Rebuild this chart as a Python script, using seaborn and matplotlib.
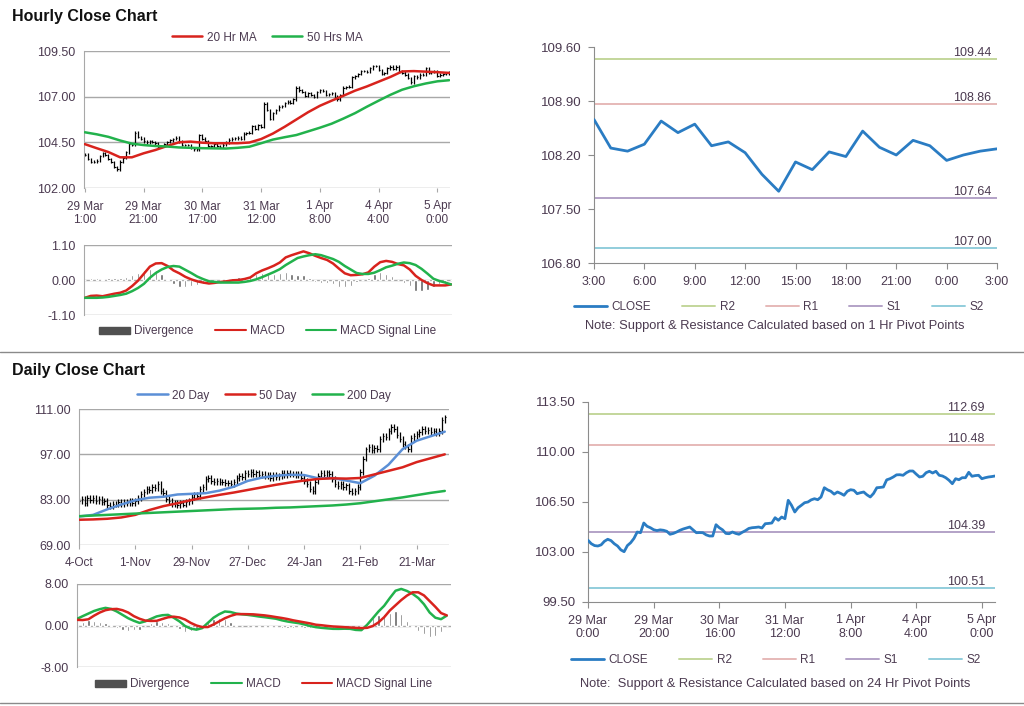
import matplotlib
matplotlib.use("Agg")
import matplotlib.pyplot as plt
import seaborn as sns
import numpy as np
from matplotlib.patches import Patch

# hourly closes, 29 Mar -> 5 Apr (one value per trading hour)
h_close = [
    103.82, 103.58, 103.45, 103.42, 103.50, 103.75, 103.89, 103.80, 103.58, 103.42,
    103.15, 103.02, 103.45, 103.65, 103.95, 104.40, 104.35, 105.03, 104.80, 104.70,
    104.56, 104.50, 104.55, 104.52, 104.45, 104.24, 104.30, 104.40, 104.52, 104.61,
    104.68, 104.75, 104.55, 104.35, 104.36, 104.35, 104.20, 104.12, 104.12, 104.91,
    104.70, 104.55, 104.30, 104.28, 104.40, 104.30, 104.24, 104.38, 104.50, 104.65,
    104.70, 104.72, 104.75, 104.68, 104.98, 105.00, 105.03, 105.40, 105.22, 105.45,
    105.33, 106.62, 106.27, 105.80, 106.10, 106.27, 106.45, 106.50, 106.65, 106.73,
    106.66, 106.85, 107.50, 107.35, 107.25, 107.05, 107.20, 107.10, 106.97, 107.25,
    107.36, 107.32, 107.08, 107.15, 107.20, 107.00, 106.85, 107.10, 107.50, 107.52,
    107.55, 108.05, 108.13, 108.25, 108.40, 108.41, 108.37, 108.55, 108.67, 108.67,
    108.45, 108.25, 108.30, 108.55, 108.65, 108.53, 108.65, 108.37, 108.32, 108.20,
    108.02, 107.78, 108.13, 108.06, 108.20, 108.20, 108.58, 108.30, 108.35, 108.37,
    108.13, 108.20, 108.25, 108.28, 108.32,
]
# moving averages, one value every 4 hours
h_ma20 = [104.40, 104.18, 103.97, 103.68, 103.68, 103.90, 104.08, 104.30, 104.50, 104.54,
          104.48, 104.45, 104.45, 104.45, 104.49, 104.68, 104.98, 105.35, 105.75, 106.15,
          106.50, 106.78, 107.05, 107.33, 107.56, 107.82, 108.08, 108.38, 108.40, 108.37,
          108.34, 108.30]
h_ma50 = [105.05, 104.94, 104.80, 104.60, 104.43, 104.35, 104.30, 104.27, 104.22, 104.20,
          104.18, 104.17, 104.16, 104.20, 104.26, 104.45, 104.65, 104.78, 104.90, 105.10,
          105.30, 105.52, 105.80, 106.10, 106.45, 106.78, 107.10, 107.38, 107.57, 107.72,
          107.84, 107.90]
# MACD, one value every 2 hours
h_macd = [-0.56, -0.50, -0.49, -0.51, -0.47, -0.43, -0.40, -0.33, -0.19, -0.02,
          0.20, 0.42, 0.52, 0.53, 0.44, 0.30, 0.21, 0.10, 0.02, -0.04,
          -0.08, -0.11, -0.09, -0.06, -0.04, -0.01, 0.00, 0.03, 0.08, 0.21,
          0.30, 0.37, 0.45, 0.55, 0.71, 0.78, 0.84, 0.90, 0.84, 0.76,
          0.69, 0.63, 0.52, 0.36, 0.21, 0.15, 0.16, 0.18, 0.24, 0.42,
          0.56, 0.60, 0.57, 0.50, 0.46, 0.33, 0.13, 0.00, -0.10, -0.17,
          -0.17, -0.17, -0.14]
h_signal = [-0.56, -0.56, -0.56, -0.55, -0.53, -0.50, -0.47, -0.43, -0.35, -0.25,
            -0.12, 0.07, 0.22, 0.33, 0.41, 0.44, 0.42, 0.32, 0.22, 0.11,
            0.03, -0.04, -0.06, -0.08, -0.08, -0.08, -0.08, -0.06, -0.03, 0.02,
            0.09, 0.17, 0.25, 0.34, 0.47, 0.58, 0.69, 0.74, 0.78, 0.81,
            0.78, 0.72, 0.66, 0.57, 0.44, 0.33, 0.22, 0.19, 0.19, 0.23,
            0.31, 0.40, 0.45, 0.51, 0.55, 0.53, 0.47, 0.35, 0.20, 0.04,
            -0.03, -0.08, -0.14]
h_ticklabels = ["29 Mar\n1:00", "29 Mar\n21:00", "30 Mar\n17:00", "31 Mar\n12:00",
                "1 Apr\n8:00", "4 Apr\n4:00", "5 Apr\n0:00"]
b_ticklabels = ["29 Mar\n0:00", "29 Mar\n20:00", "30 Mar\n16:00", "31 Mar\n12:00",
                "1 Apr\n8:00", "4 Apr\n4:00", "5 Apr\n0:00"]

# last 24 hours
p_hours = ["3:00", "6:00", "9:00", "12:00", "15:00", "18:00", "21:00", "0:00", "3:00"]
p_close = [108.66, 108.29, 108.25, 108.34, 108.64, 108.49, 108.60, 108.32, 108.37, 108.23,
           107.95, 107.73, 108.11, 108.01, 108.24, 108.18, 108.51, 108.30, 108.20, 108.39,
           108.32, 108.13, 108.20, 108.25, 108.28]
level_names = ["R2", "R1", "S1", "S2"]
levels_1h = [109.44, 108.86, 107.64, 107.00]
levels_24h = [112.69, 110.48, 104.39, 100.51]

# daily closes, 4 Oct -> early Apr
d_close = [
    82.5, 83.2, 82.0, 83.5, 82.8, 83.6, 82.7, 83.1, 82.2, 82.6,
    81.4, 81.0, 81.8, 81.5, 82.3, 81.7, 82.4, 82.0, 82.6, 81.9,
    82.5, 83.5, 84.8, 85.5, 86.3, 86.0, 86.8, 86.5, 87.8, 85.8,
    85.0, 83.2, 82.6, 81.6, 82.0, 81.4, 81.9, 81.5, 82.2, 82.6,
    83.8, 84.6, 84.2, 86.2, 87.0, 89.4, 89.8, 88.8, 88.5, 88.9,
    88.4, 88.6, 88.0, 88.3, 87.9, 88.6, 89.8, 90.4, 90.0, 91.2,
    91.0, 91.5, 90.8, 91.4, 90.6, 90.9, 90.2, 90.5, 89.8, 90.6,
    90.0, 90.4, 91.2, 90.6, 91.3, 90.8, 91.0, 90.7, 90.9, 89.6,
    88.7, 87.8, 86.2, 85.6, 88.6, 90.4, 91.2, 90.6, 91.4, 90.8,
    89.5, 87.8, 87.2, 87.9, 86.8, 87.4, 85.8, 85.2, 85.6, 86.8,
    91.6, 95.7, 98.5, 99.2, 98.4, 99.0, 98.7, 101.8, 102.6, 102.2,
    104.2, 105.5, 104.8, 103.0, 101.8, 100.2, 99.4, 98.6, 102.0, 102.6,
    103.2, 104.0, 104.8, 104.2, 104.6, 103.8, 104.1, 103.5, 104.3, 107.6,
    108.4,
]
d_ticklabels = ["4-Oct", "1-Nov", "29-Nov", "27-Dec", "24-Jan", "21-Feb", "21-Mar"]
# moving averages, one value every 5 days
d_ma20 = [77.8, 78.3, 80.0, 81.5, 82.8, 83.6, 83.9, 84.6, 84.8, 85.0,
          85.8, 87.0, 88.8, 89.8, 90.4, 90.7, 90.6, 89.6, 89.7, 88.9,
          88.1, 90.4, 93.8, 98.6, 101.2, 102.6, 104.0]
d_ma50 = [76.8, 76.9, 77.1, 77.5, 78.3, 79.8, 81.0, 81.9, 82.9, 83.7,
          84.5, 85.2, 86.0, 86.8, 87.6, 88.3, 88.9, 89.4, 89.6, 89.5,
          89.7, 90.8, 91.9, 93.0, 94.6, 95.8, 97.0]
d_ma200 = [77.9, 78.1, 78.3, 78.5, 78.7, 78.9, 79.1, 79.3, 79.5, 79.7,
           79.9, 80.1, 80.2, 80.3, 80.5, 80.6, 80.8, 81.0, 81.2, 81.5,
           81.9, 82.5, 83.1, 83.7, 84.4, 85.1, 85.7]
# MACD, one value every 2 days
d_macd = [1.28, 1.80, 2.30, 2.80, 3.15, 3.40, 3.20, 2.70, 2.05, 1.40,
          0.90, 0.50, 0.80, 1.28, 1.75, 1.98, 2.05, 1.50, 0.80, -0.10,
          -0.60, -0.80, -0.51, 0.50, 1.50, 2.18, 2.70, 2.60, 2.30, 2.15,
          2.05, 1.90, 1.73, 1.60, 1.45, 1.30, 1.00, 0.77, 0.60, 0.45,
          0.20, -0.10, -0.32, -0.45, -0.55, -0.64, -0.65, -0.62, -0.64, -0.85,
          -0.90, 0.13, 1.40, 2.70, 3.80, 5.30, 6.70, 7.05, 6.66, 6.10,
          5.30, 4.10, 2.50, 1.50, 1.22, 1.90]
d_signal = [1.09, 1.05, 1.20, 1.90, 2.50, 2.95, 3.15, 3.20, 2.95, 2.50,
            1.80, 1.30, 0.95, 0.88, 0.90, 1.25, 1.58, 1.70, 1.55, 1.15,
            0.50, 0.00, -0.30, -0.30, 0.20, 0.80, 1.40, 1.85, 2.18, 2.20,
            2.18, 2.15, 2.05, 1.95, 1.80, 1.62, 1.45, 1.25, 1.00, 0.80,
            0.60, 0.40, 0.15, 0.05, -0.08, -0.19, -0.25, -0.32, -0.38, -0.45,
            -0.50, -0.45, -0.10, 0.60, 1.60, 2.90, 3.90, 4.90, 5.76, 6.40,
            6.40, 5.80, 4.70, 3.60, 2.40, 1.95]

sns.set_style("white")
plt.rcParams["font.family"] = ["Liberation Sans", "DejaVu Sans"]

TXT = "#4b3a50"
GRID = "#a8a8a8"
RED = "#d8231d"
GREEN = "#22b24c"
BLUE = "#5b8fd6"
CLOSE_C = "#2a7cc3"
LEVEL_C = ["#c3d69b", "#e6b9b8", "#b3a2c7", "#92cddc"]
DIV_C = "#666666"

fig = plt.figure(figsize=(10.24, 7.06), dpi=100)


def rect(l, t, r, b):
    return [l / 1024, 1 - b / 706, (r - l) / 1024, (b - t) / 706]


def left_style(ax, yticks, xlim):
    ax.set_xlim(*xlim)
    ax.set_ylim(yticks[0], yticks[-1])
    ax.set_yticks(yticks)
    ax.set_yticklabels([f"{v:.2f}" for v in yticks])
    ax.yaxis.grid(True, color=GRID, lw=1)
    ax.set_axisbelow(True)
    for s in ["top", "right", "bottom"]:
        ax.spines[s].set_visible(False)
    ax.spines["left"].set_color(GRID)
    ax.tick_params(axis="y", labelsize=9, labelcolor=TXT, length=0, pad=6)
    ax.set_xlabel("")
    ax.set_ylabel("")


def ohlc(ax, close, wick):
    close = np.asarray(close)
    x = np.arange(len(close))
    opn = np.r_[close[0], close[:-1]]
    ax.vlines(x, np.minimum(opn, close) - wick, np.maximum(opn, close) + wick,
              color="black", lw=0.9, zorder=2)
    ax.hlines(close, x, x + 0.5, color="black", lw=0.8, zorder=2)


LEG = dict(frameon=False, fontsize=8.5, handlelength=2.6, handletextpad=0.35,
           columnspacing=1.3, labelcolor=TXT, borderaxespad=0)


def macd_panel(ax, macd, signal, step, lim, macd_c, sig_c, xlim):
    xi = np.arange(len(macd)) * step
    div = np.asarray(macd) - np.asarray(signal)
    ax.bar(xi, div, width=0.8, color=DIV_C, zorder=2)
    sns.lineplot(x=xi, y=macd, ax=ax, color=macd_c, lw=1.8, zorder=3)
    sns.lineplot(x=xi, y=signal, ax=ax, color=sig_c, lw=1.8, zorder=3)
    left_style(ax, [-lim, 0, lim], xlim)
    ax.set_xticks([])
    handles = [Patch(color="#505050"), plt.Line2D([], [], color=macd_c, lw=1.5),
               plt.Line2D([], [], color=sig_c, lw=1.5)]
    ax.legend(handles, ["Divergence", "MACD", "MACD Signal Line"], ncol=3,
              loc="upper center", bbox_to_anchor=(0.5, -0.08), handleheight=0.55,
              **{**LEG, "columnspacing": 1.8})


def pivot_panel(ax, close, levels, ticks, labels, xlim, ylim_ticks, lx):
    x = np.arange(len(close))
    sns.lineplot(x=x, y=close, ax=ax, color=CLOSE_C, lw=2, label="CLOSE", zorder=3)
    for v, c, n in zip(levels, LEVEL_C, level_names):
        ax.axhline(v, color=c, lw=1.4, label=n, zorder=2)
        ax.text(lx, v, f"{v:.2f}", transform=ax.get_yaxis_transform(), ha="right",
                va="bottom", fontsize=9, color=TXT)
    ax.set_xlim(*xlim)
    ax.set_ylim(ylim_ticks[0], ylim_ticks[-1])
    ax.set_yticks(ylim_ticks)
    ax.set_yticklabels([f"{v:.2f}" for v in ylim_ticks])
    ax.set_xticks(ticks)
    ax.set_xticklabels(labels)
    for s in ["top", "right"]:
        ax.spines[s].set_visible(False)
    for s in ["left", "bottom"]:
        ax.spines[s].set_color("#8c8c8c")
    ax.tick_params(axis="both", labelsize=9, labelcolor=TXT, color="#8c8c8c",
                   length=4, direction="out", left=True, bottom=True, pad=5)
    ax.tick_params(axis="y", labelsize=9.5)
    ax.set_xlabel("")
    ax.set_ylabel("")
    ax.get_legend().remove()


PIV_LEG = dict(ncol=5, loc="center", frameon=False, fontsize=8.5, handlelength=2.8,
               handletextpad=0.4, columnspacing=2.6, labelcolor=TXT)

# ---------------- Hourly section ----------------
fig.text(12 / 1024, 1 - 16 / 706, "Hourly Close Chart", fontsize=11.5,
         fontweight="bold", va="center", color="#111111")

ax1 = fig.add_axes(rect(84, 51, 450, 188))
ohlc(ax1, h_close, 0.07)
sns.lineplot(x=np.arange(len(h_ma20)) * 4, y=h_ma20, ax=ax1, color=RED, lw=1.8,
             label="20 Hr MA", zorder=3)
sns.lineplot(x=np.arange(len(h_ma50)) * 4, y=h_ma50, ax=ax1, color=GREEN, lw=1.8,
             label="50 Hrs MA", zorder=3)
left_style(ax1, [102.0, 104.5, 107.0, 109.5], (-0.3, 124.3))
ax1.set_xticks(np.arange(0, 121, 20))
ax1.set_xticklabels(h_ticklabels)
ax1.tick_params(axis="x", labelsize=8.5, labelcolor=TXT, color=GRID, length=3,
                bottom=True, pad=6)
ax1.legend(ncol=2, loc="lower center", bbox_to_anchor=(0.5, 1.02), **LEG)

ax2 = fig.add_axes(rect(84, 245, 452, 315))
macd_panel(ax2, h_macd, h_signal, 2, 1.1, RED, GREEN, (-0.3, 124.3))

ax3 = fig.add_axes(rect(594, 47, 997, 263))
pivot_panel(ax3, p_close, levels_1h, np.arange(0, 25, 3), p_hours, (0, 24),
            [106.8, 107.5, 108.2, 108.9, 109.6], 0.985)
fig.legend(*ax3.get_legend_handles_labels(),
           bbox_to_anchor=(779 / 1024, 1 - 307 / 706), **PIV_LEG)
fig.text(775 / 1024, 1 - 326 / 706,
         "Note: Support & Resistance Calculated based on 1 Hr Pivot Points",
         ha="center", va="center", fontsize=9.3, color=TXT)

fig.add_artist(plt.Line2D([0, 1], [1 - 352 / 706] * 2, color="#8a8a8a", lw=1))

# ---------------- Daily section ----------------
fig.text(12 / 1024, 1 - 370 / 706, "Daily Close Chart", fontsize=11.5,
         fontweight="bold", va="center", color="#111111")

ax4 = fig.add_axes(rect(79, 409, 449, 545))
ohlc(ax4, d_close, 0.9)
sns.lineplot(x=np.arange(len(d_ma20)) * 5, y=d_ma20, ax=ax4, color=BLUE, lw=1.8,
             label="20 Day", zorder=3)
sns.lineplot(x=np.arange(len(d_ma50)) * 5, y=d_ma50, ax=ax4, color=RED, lw=1.8,
             label="50 Day", zorder=3)
sns.lineplot(x=np.arange(len(d_ma200)) * 5, y=d_ma200, ax=ax4, color=GREEN, lw=1.8,
             label="200 Day", zorder=3)
left_style(ax4, [69.0, 83.0, 97.0, 111.0], (0, 131.5))
ax4.set_xticks(np.arange(0, 121, 20))
ax4.set_xticklabels(d_ticklabels)
ax4.tick_params(axis="x", labelsize=8.5, labelcolor=TXT, color=GRID, length=3,
                bottom=True, pad=6)
ax4.legend(ncol=3, loc="lower center", bbox_to_anchor=(0.5, 1.02), **LEG)

ax5 = fig.add_axes(rect(77, 584, 451, 667))
macd_panel(ax5, d_macd, d_signal, 2, 8.0, GREEN, RED, (0, 131.5))

ax6 = fig.add_axes(rect(588, 402, 995, 602))
pivot_panel(ax6, h_close, levels_24h, np.arange(0, 121, 20), b_ticklabels, (0, 124),
            [99.5, 103.0, 106.5, 110.0, 113.5], 0.975)
fig.legend(*ax6.get_legend_handles_labels(),
           bbox_to_anchor=(776 / 1024, 1 - 660 / 706), **PIV_LEG)
fig.text(775 / 1024, 1 - 684 / 706,
         "Note:  Support & Resistance Calculated based on 24 Hr Pivot Points",
         ha="center", va="center", fontsize=9.3, color=TXT)

fig.add_artist(plt.Line2D([0, 1], [1 - 703 / 706] * 2, color="#8a8a8a", lw=1))

fig.savefig("out.png", dpi=100, facecolor="white")
